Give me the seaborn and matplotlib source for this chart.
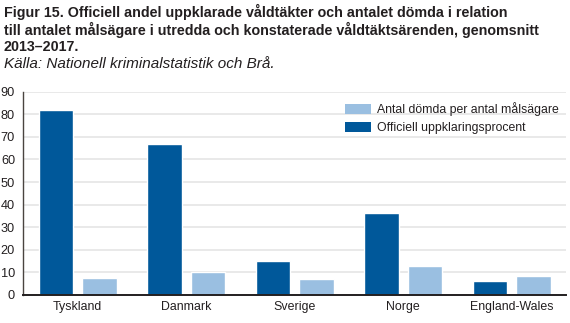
import matplotlib
matplotlib.use("Agg")
import matplotlib.pyplot as plt
import seaborn as sns
import pandas as pd
from matplotlib.patches import Patch

countries = ["Tyskland", "Danmark", "Sverige", "Norge", "England-Wales"]
uppklaring = [81.7, 66.7, 15.2, 36.4, 6.3]
domda = [7.4, 10.4, 7.3, 13.0, 8.2]
series_names = ["Officiell uppklaringsprocent", "Antal dömda per antal målsägare"]
yticks = [0, 10, 20, 30, 40, 50, 60, 70, 80, 90]

title = ("Figur 15. Officiell andel uppklarade våldtäkter och antalet dömda i relation\n"
         "till antalet målsägare i utredda och konstaterade våldtäktsärenden, genomsnitt\n"
         "2013–2017.")
source = "Källa: Nationell kriminalstatistik och Brå."

df = pd.DataFrame({
    "land": countries * 2,
    "serie": [series_names[0]] * len(countries) + [series_names[1]] * len(countries),
    "värde": uppklaring + domda,
})

dark = "#00589a"
light = "#9abfe1"
txt = "#231f20"

sns.set_theme(style="white")
plt.rcParams["font.family"] = ["Liberation Sans", "DejaVu Sans"]

fig = plt.figure(figsize=(5.7, 3.23), dpi=100)
ax = fig.add_axes([0.041, 0.0867, 0.952, 0.6293])

sns.barplot(data=df, x="land", y="värde", hue="serie", hue_order=series_names,
            palette=[dark, light], order=countries, gap=0.2, width=0.8,
            saturation=1, ax=ax, legend=False, zorder=3)

ax.set_ylim(0, 90)
ax.set_xlim(-0.5, len(countries) - 0.5)
ax.set_yticks(yticks)
ax.set_yticklabels([str(v) for v in yticks], fontsize=9.2, color=txt)
ax.grid(axis="y", color="#e3e3e3", lw=1.1, zorder=0)
ax.set_axisbelow(True)
ax.set_xlabel("")
ax.set_ylabel("")
ax.tick_params(axis="y", length=0, pad=6)
ax.tick_params(axis="x", which="major", length=0, pad=4.5, labelsize=8.9, labelcolor=txt)
ax.set_xticks([i - 0.5 for i in range(len(countries) + 1)], minor=True)
ax.tick_params(axis="x", which="minor", direction="in", length=4, width=1.3, color=txt)

for s in ["top", "right"]:
    ax.spines[s].set_visible(False)
ax.spines["left"].set_color("#4a4440")
ax.spines["left"].set_linewidth(1.0)
ax.spines["bottom"].set_color(txt)
ax.spines["bottom"].set_linewidth(1.4)
ax.spines["bottom"].set_zorder(5)

handles = [Patch(facecolor=light, edgecolor="none"), Patch(facecolor=dark, edgecolor="none")]
labels = [series_names[1], series_names[0]]
leg = ax.legend(handles, labels, loc="upper right", bbox_to_anchor=(1.0, 0.985),
                frameon=False, fontsize=8.8, handlelength=2.2, handleheight=0.95,
                handletextpad=0.45, labelspacing=0.45, borderaxespad=0.2)
for t in leg.get_texts():
    t.set_color(txt)

fig.text(0.007, 0.988, title, ha="left", va="top", fontsize=10.3, fontweight="bold",
         color=txt, linespacing=1.18)
fig.text(0.007, 0.823, source, ha="left", va="top", fontsize=11.0, style="italic",
         color=txt)

fig.savefig("out.png", dpi=100)
